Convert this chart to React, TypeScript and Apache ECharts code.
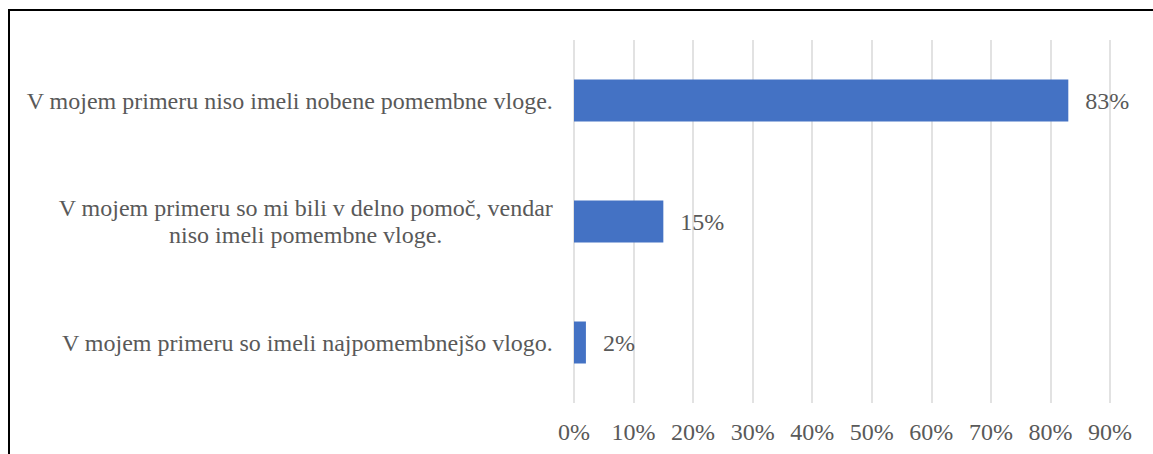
import React, { useEffect, useRef } from "react";
import * as echarts from "echarts";

const categories = [
  "V mojem primeru niso imeli nobene pomembne vloge.",
  "V mojem primeru so mi bili v delno pomoč, vendar\nniso imeli pomembne vloge.",
  "V mojem primeru so imeli najpomembnejšo vlogo.",
];
const values = [83, 15, 2];
const axisMax = 90;
const axisInterval = 10;

const FONT = "'Liberation Serif', 'Times New Roman', serif";
const TEXT = "#595959";

export default function App() {
  const ref = useRef<HTMLDivElement>(null);
  useEffect(() => {
    if (!ref.current) return;
    const chart = echarts.init(ref.current, null, { renderer: "svg" });
    chart.setOption({
      animation: false,
      backgroundColor: "#ffffff",
      textStyle: { fontFamily: FONT },
      grid: { left: 574, right: 43, top: 40, bottom: 51, containLabel: false },
      xAxis: {
        type: "value",
        min: 0,
        max: axisMax,
        interval: axisInterval,
        axisLine: { show: false },
        axisTick: { show: false },
        splitLine: { show: true, lineStyle: { color: "#d9d9d9", width: 1.5 } },
        axisLabel: {
          color: TEXT,
          fontSize: 24,
          fontFamily: FONT,
          margin: 17,
          formatter: (v: number) => v + "%",
        },
      },
      yAxis: {
        type: "category",
        inverse: true,
        data: categories,
        axisLine: { show: false },
        axisTick: { show: false },
        splitLine: { show: false },
        axisLabel: {
          color: TEXT,
          fontSize: 24,
          fontFamily: FONT,
          margin: 21,
          lineHeight: 27,
          formatter: (v: string) =>
            v
              .split("\n")
              .map((l) => "{c|" + l + "}")
              .join("\n"),
          rich: {
            c: {
              align: "center",
              color: TEXT,
              fontSize: 24,
              fontFamily: FONT,
              lineHeight: 27,
            },
          },
        },
      },
      series: [
        {
          type: "bar",
          data: values,
          barWidth: 42,
          itemStyle: { color: "#4472c4" },
          label: {
            show: true,
            position: "right",
            distance: 17,
            color: TEXT,
            fontSize: 24,
            fontFamily: FONT,
            formatter: (p: any) => p.value + "%",
          },
        },
      ],
      graphic: [
        {
          type: "line",
          shape: { x1: 8, y1: 10, x2: 1153, y2: 10 },
          style: { stroke: "#000000", lineWidth: 2 },
        },
        {
          type: "line",
          shape: { x1: 9, y1: 10, x2: 9, y2: 454 },
          style: { stroke: "#000000", lineWidth: 2 },
        },
      ],
    });
    return () => chart.dispose();
  }, []);
  return (
    <div
      ref={ref}
      style={{ position: "fixed", left: 0, top: 0, width: 1153, height: 454 }}
    />
  );
}
